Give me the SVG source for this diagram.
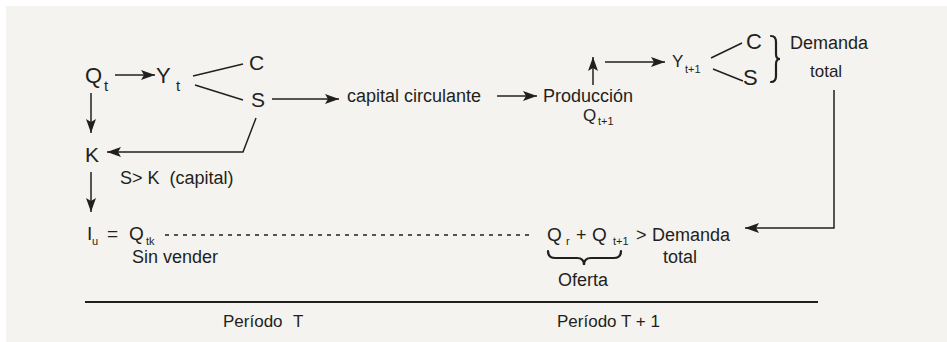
<svg xmlns="http://www.w3.org/2000/svg" width="947" height="342" viewBox="0 0 947 342">
<defs>
<marker id="ah" markerUnits="userSpaceOnUse" markerWidth="16" markerHeight="12" refX="14" refY="5" orient="auto">
<path d="M0,0 L14,5 L0,10 L3,5 z" fill="#231f20"/>
</marker>
<style>
.t{font-family:"Liberation Sans",Arial,sans-serif;fill:#231f20}
.ln{stroke:#231f20;stroke-width:1.5;fill:none}
.ar{stroke:#231f20;stroke-width:1.5;fill:none;marker-end:url(#ah)}
.br{stroke:#231f20;stroke-width:2.2;fill:none;stroke-linecap:round}
</style>
</defs>
<rect x="0" y="0" width="947" height="342" fill="#ffffff"/>
<rect x="6" y="6" width="941" height="336" fill="#f4f3ef"/>

<g id="connectors">
<line class="ar" x1="115" y1="75" x2="155" y2="75"/>
<line class="ar" x1="91" y1="93" x2="91" y2="133"/>
<line class="ln" x1="193" y1="76" x2="243" y2="64"/>
<line class="ln" x1="195" y1="85" x2="243" y2="100"/>
<line class="ar" x1="272" y1="99" x2="339" y2="99"/>
<line class="ar" x1="497" y1="96" x2="537" y2="96"/>
<line class="ar" x1="593" y1="85" x2="593" y2="57"/>
<line class="ar" x1="605" y1="62" x2="665" y2="62"/>
<line class="ln" x1="711" y1="58" x2="742" y2="43"/>
<line class="ln" x1="713" y1="69" x2="743" y2="81"/>
<polyline class="ar" points="256,118 243,152 107,152"/>
<line class="ar" x1="91" y1="172" x2="91" y2="212"/>
<line class="ln" x1="165" y1="235" x2="533" y2="235" stroke-dasharray="4,5" stroke-width="1"/>
<polyline class="ar" points="834,90 834,228 745,228"/>
<line x1="85" y1="302" x2="818" y2="302" stroke="#231f20" stroke-width="2"/>
</g>

<g id="node-Qt"><text class="t" x="85" y="83" font-size="22">Q</text><text class="t" x="104" y="91" font-size="15">t</text></g>
<g id="node-Yt"><text class="t" x="156" y="83" font-size="22">Y</text><text class="t" x="176" y="91" font-size="15">t</text></g>
<g id="node-C"><text class="t" x="249" y="70" font-size="21">C</text></g>
<g id="node-S"><text class="t" x="251" y="107" font-size="21">S</text></g>
<g id="node-cc"><text class="t" x="347" y="102" font-size="18">capital circulante</text></g>
<g id="node-prod"><text class="t" x="543" y="102" font-size="18">Producción</text><text class="t" x="583" y="121" font-size="17">Q</text><text class="t" x="598" y="125" font-size="11">t+1</text></g>
<g id="node-Yt1"><text class="t" x="672" y="67" font-size="17">Y</text><text class="t" x="685" y="73" font-size="11">t+1</text></g>
<g id="node-C2"><text class="t" x="746" y="49" font-size="22">C</text></g>
<g id="node-S2"><text class="t" x="743" y="85" font-size="22">S</text></g>
<g id="node-demanda"><path class="br" d="M771,36 Q776,36 776,42 L776,54 Q776,59 780,59 Q776,59 776,64 L776,76 Q776,82 771,82"/><text class="t" x="790" y="49" font-size="18">Demanda</text><text class="t" x="810" y="77" font-size="17">total</text></g>
<g id="node-K"><text class="t" x="85" y="162" font-size="21">K</text><text class="t" x="120" y="184" font-size="18" xml:space="preserve">S&gt; K  (capital)</text></g>
<g id="node-Iu"><text class="t" x="87" y="240" font-size="19">I</text><text class="t" x="92" y="245" font-size="11">u</text><text class="t" x="107" y="240" font-size="19">=</text><text class="t" x="129" y="240" font-size="19">Q</text><text class="t" x="146" y="245" font-size="11">tk</text><text class="t" x="132" y="263" font-size="18">Sin vender</text></g>
<g id="node-oferta"><text class="t" x="547" y="241" font-size="19">Q</text><text class="t" x="566" y="245" font-size="11">r</text><text class="t" x="576" y="241" font-size="18">+</text><text class="t" x="592" y="241" font-size="19">Q</text><text class="t" x="613" y="245" font-size="11">t+1</text><text class="t" x="636" y="241" font-size="18">&gt;</text><text class="t" x="652" y="241" font-size="18">Demanda</text><text class="t" x="663" y="263" font-size="18">total</text><path class="br" d="M548,251 Q548,258 555,258 L577,258 Q584,258 584,265 Q584,258 591,258 L614,258 Q621,258 621,251"/><text class="t" x="558" y="286" font-size="18">Oferta</text></g>
<g id="node-periodos"><text class="t" x="223" y="327" font-size="17">Período</text><text class="t" x="293" y="327" font-size="17">T</text><text class="t" x="557" y="327" font-size="17">Período T + 1</text></g>
</svg>
